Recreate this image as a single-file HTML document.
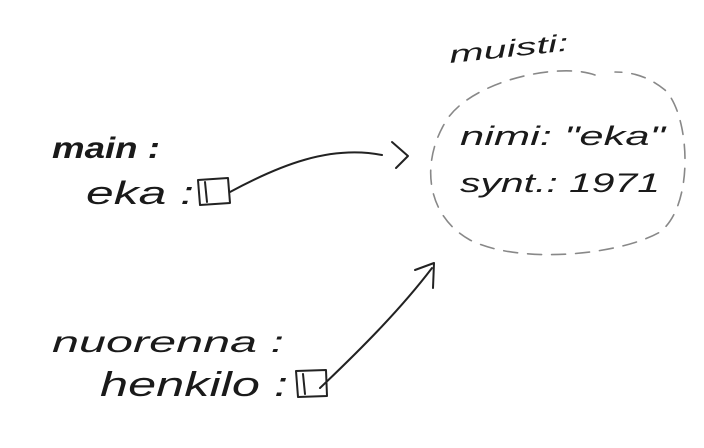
<!DOCTYPE html>
<html><head><meta charset="utf-8"><style>
html,body{margin:0;padding:0;background:#fff;}
svg{display:block}
text{font-family:"Liberation Sans",sans-serif;font-style:italic;fill:#1a1a1a;}
</style></head><body>
<svg width="704" height="448" viewBox="0 0 704 448">
<g fill="none" stroke="#222" stroke-linecap="round" stroke-linejoin="round">
  <path d="M595,75 C560,62 475,80 448,118 C420,160 425,215 470,240 C520,265 620,255 660,232 C695,205 690,115 665,90 C650,78 635,72 615,72" stroke="#888" stroke-width="1.6" stroke-dasharray="14 10"/>
  <path d="M198,180 L228,178 L230,203 L200,205 Z M205,182 L207,202" stroke-width="2"/>
  <path d="M230,192 C280,165 330,145 382,155" stroke-width="2"/>
  <path d="M392,142 L408,156 L396,168" stroke-width="2"/>
  <path d="M296,371 L326,370 L327,396 L298,397 Z M303,374 L305,394" stroke-width="2"/>
  <path d="M320,388 C360,350 400,310 432,268" stroke-width="2"/>
  <path d="M415,270 L434,263 L433,288" stroke-width="2"/>
</g>
<text x="450" y="63" font-size="24" textLength="120" lengthAdjust="spacingAndGlyphs" transform="rotate(-6 450 63)">muisti:</text>
<text x="52" y="158" font-size="30" font-weight="bold" textLength="108" lengthAdjust="spacingAndGlyphs">main :</text>
<text x="86" y="204" font-size="32" textLength="108" lengthAdjust="spacingAndGlyphs">eka :</text>
<text x="460" y="145" font-size="27" textLength="205" lengthAdjust="spacingAndGlyphs">nimi: "eka"</text>
<text x="460" y="192" font-size="27" textLength="200" lengthAdjust="spacingAndGlyphs">synt.:  1971</text>
<text x="52" y="352" font-size="30" textLength="232" lengthAdjust="spacingAndGlyphs">nuorenna :</text>
<text x="100" y="396" font-size="34" textLength="188" lengthAdjust="spacingAndGlyphs">henkilo :</text>
</svg>
</body></html>
